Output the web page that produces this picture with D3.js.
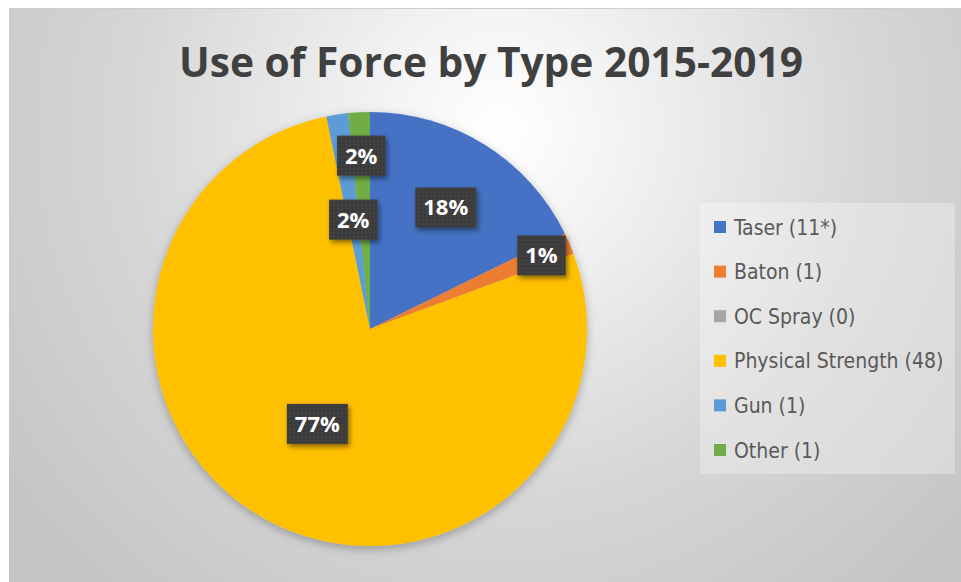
<!DOCTYPE html>
<html>
<head>
<meta charset="utf-8">
<script src="https://cdn.jsdelivr.net/npm/d3@7"></script>
<style>
  body { margin: 0; background: #fff; }
  svg { display: block; }
</style>
</head>
<body>
<script>
// chart data
var categories = ["Taser", "Baton", "OC Spray", "Physical Strength", "Gun", "Other"];
var counts = [11, 1, 0, 48, 1, 1];
var countLabels = ["11*", "1", "0", "48", "1", "1"];
var percentLabels = ["18%", "1%", "0%", "77%", "2%", "2%"];

var colours = ["#4472C4", "#ED7D31", "#A5A5A5", "#FFC000", "#5B9BD5", "#70AD47"];
// how far out (fraction of radius) each data label sits
var labelRadius = [0.66, 0.86, 0.5, 0.5, 0.51, 0.8];

var width = 961, height = 582;
var cx = 370, cy = 329, radius = 217;
var TITLE_FONT = "'Open Sans', sans-serif";
var LEGEND_FONT = "'Liberation Sans Narrow', 'DejaVu Sans Condensed', sans-serif";

var data = categories.map(function(c, i) {
  return {name: c, count: counts[i], countLabel: countLabels[i], pct: percentLabels[i], idx: i};
});

var svg = d3.select("body").append("svg")
  .attr("width", width)
  .attr("height", height);

var defs = svg.append("defs");

var bg = defs.append("radialGradient")
  .attr("id", "bg")
  .attr("gradientUnits", "userSpaceOnUse")
  .attr("cx", 500).attr("cy", 130).attr("r", 620);
bg.append("stop").attr("offset", "0").attr("stop-color", "#ffffff");
bg.append("stop").attr("offset", "0.18").attr("stop-color", "#f4f4f4");
bg.append("stop").attr("offset", "0.6").attr("stop-color", "#d6d6d6");
bg.append("stop").attr("offset", "1").attr("stop-color", "#c4c4c4");

var shadow = defs.append("filter").attr("id", "pieShadow")
  .attr("x", "-20%").attr("y", "-20%").attr("width", "140%").attr("height", "140%");
shadow.append("feDropShadow")
  .attr("dx", 0).attr("dy", 3).attr("stdDeviation", 5)
  .attr("flood-color", "#000").attr("flood-opacity", 0.28);

var boxShadow = defs.append("filter").attr("id", "boxShadow")
  .attr("x", "-30%").attr("y", "-30%").attr("width", "170%").attr("height", "170%");
boxShadow.append("feDropShadow")
  .attr("dx", 2).attr("dy", 3).attr("stdDeviation", 2.5)
  .attr("flood-color", "#000").attr("flood-opacity", 0.45);

var dots = defs.append("pattern").attr("id", "dots")
  .attr("width", 4).attr("height", 4)
  .attr("patternUnits", "userSpaceOnUse");
dots.append("rect").attr("width", 4).attr("height", 4).attr("fill", "#3a3a3a");
dots.append("circle").attr("cx", 1).attr("cy", 1).attr("r", 0.7).attr("fill", "#5a5a5a");

// chart area background
svg.append("rect")
  .attr("x", 9).attr("y", 8)
  .attr("width", width - 9).attr("height", height - 8)
  .attr("fill", "url(#bg)");
svg.append("line")
  .attr("x1", 9).attr("x2", width).attr("y1", 8.5).attr("y2", 8.5)
  .attr("stroke", "#cdcdcd");

// title
svg.append("text")
  .attr("x", 491)
  .attr("y", 77)
  .attr("text-anchor", "middle")
  .attr("font-family", TITLE_FONT)
  .attr("font-weight", "bold")
  .attr("font-size", 41)
  .attr("fill", "#404040")
  .attr("textLength", 624)
  .attr("lengthAdjust", "spacingAndGlyphs")
  .text("Use of Force by Type 2015-2019");

// pie
var pie = d3.pie().sort(null).value(function(d) { return d.count; });
var arc = d3.arc().innerRadius(0).outerRadius(radius);
var arcs = pie(data);

var pieG = svg.append("g")
  .attr("transform", "translate(" + cx + "," + cy + ")");

pieG.append("g")
  .attr("filter", "url(#pieShadow)")
  .selectAll("path")
  .data(arcs)
  .enter().append("path")
  .attr("d", arc)
  .attr("fill", function(d) { return colours[d.data.idx]; });

// data labels
var labels = pieG.selectAll("g.label")
  .data(arcs.filter(function(d) { return d.data.count > 0; }))
  .enter().append("g")
  .attr("class", "label")
  .attr("transform", function(d) {
    var mid = (d.startAngle + d.endAngle) / 2;
    var r = radius * labelRadius[d.data.idx];
    return "translate(" + (Math.sin(mid) * r) + "," + (-Math.cos(mid) * r) + ")";
  });

var labelRect = labels.append("rect")
  .attr("fill", "url(#dots)")
  .attr("filter", "url(#boxShadow)");

var labelText = labels.append("text")
  .attr("text-anchor", "middle")
  .attr("dy", "0.36em")
  .attr("font-family", TITLE_FONT)
  .attr("font-weight", "bold")
  .attr("font-size", 22)
  .attr("fill", "#ffffff")
  .text(function(d) { return d.data.pct; });

labelText.each(function(d) {
  d.tw = this.getComputedTextLength();
});
labelRect
  .attr("x", function(d) { return -d.tw / 2 - 8; })
  .attr("y", -20)
  .attr("width", function(d) { return d.tw + 16; })
  .attr("height", 40);

// legend
var legend_x = 700, legend_y = 203, row = 44.6;
svg.append("rect")
  .attr("x", legend_x).attr("y", legend_y)
  .attr("width", 255).attr("height", 271)
  .attr("fill", "#ffffff").attr("fill-opacity", 0.3);

var legend = svg.append("g")
  .selectAll("g")
  .data(data)
  .enter().append("g")
  .attr("transform", function(d, i) {
    return "translate(" + 714 + "," + (227 + i * row) + ")";
  });

legend.append("rect")
  .attr("x", 0).attr("y", -6)
  .attr("width", 12).attr("height", 12)
  .attr("fill", function(d) { return colours[d.idx]; });

legend.append("text")
  .attr("x", 20)
  .attr("dy", "0.36em")
  .attr("font-family", LEGEND_FONT)
  .attr("font-size", 21)
  .attr("fill", "#595959")
  .text(function(d) { return d.name + " (" + d.countLabel + ")"; });
</script>
</body>
</html>
